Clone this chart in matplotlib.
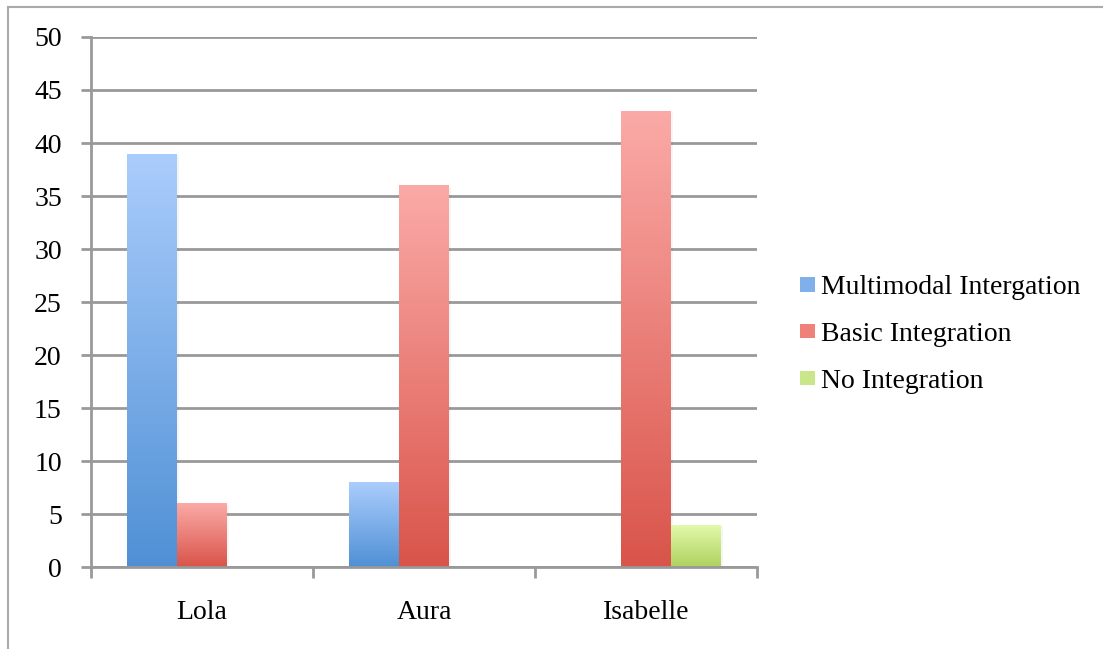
import matplotlib
matplotlib.use('Agg')
import matplotlib.pyplot as plt
import numpy as np
from matplotlib.colors import LinearSegmentedColormap
from matplotlib.lines import Line2D
from matplotlib.patches import Patch

# Chart data
people = ['Lola', 'Aura', 'Isabelle']
series_names = ['Multimodal Intergation', 'Basic Integration', 'No Integration']
multimodal = [39, 8, 0]
basic = [6, 36, 43]
no_integration = [0, 0, 4]

# Gradient colours for each series (top colour, bottom colour)
top_colours = ['#abcdfc', '#fbaaa7', '#e3fbab']
bottom_colours = ['#4f90d5', '#d9544a', '#aed160']
mid_colours = ['#7fb0ea', '#ee827b', '#c9e68a']

plt.rcParams['font.family'] = ['Liberation Serif', 'DejaVu Serif']

fig = plt.figure(figsize=(11.03, 6.49), dpi=100)
ax = fig.add_axes([0.0825, 0.1263, 0.6038, 0.8167])

values = [multimodal, basic, no_integration]
x = np.arange(len(people))
width = 50 / 222
grad = np.linspace(1, 0, 256).reshape(-1, 1)

for s, vals in enumerate(values):
    cmap = LinearSegmentedColormap.from_list('g%d' % s, [bottom_colours[s], top_colours[s]])
    offs = x + (s - 1) * width
    bars = ax.bar(offs, vals, width, color=mid_colours[s], zorder=3, linewidth=0)
    for b, v in zip(bars, vals):
        if v <= 0:
            continue
        bx = b.get_x()
        # faint shadow to the right of each bar
        ax.bar(bx + width / 2 + 0.01, v - 0.15, width, color='#000000', alpha=0.04,
               zorder=2.5, linewidth=0)
        im = ax.imshow(grad, cmap=cmap, extent=[bx, bx + width, 0, v], aspect='auto',
                       zorder=3.1, interpolation='bicubic')
        im.set_clip_path(b)

ax.set_xlim(-0.5, 2.5)
ax.set_ylim(0, 50)
ax.set_yticks(np.arange(0, 51, 5))
ax.yaxis.grid(True, color='#999999', linewidth=2, zorder=1)
ax.set_axisbelow(True)

ax.set_xticks(x)
ax.set_xticklabels(people)
ax.set_xticks([-0.5, 0.5, 1.5, 2.5], minor=True)
ax.tick_params(axis='x', which='major', length=0, pad=24, labelsize=20)
ax.tick_params(axis='x', which='minor', length=8, width=2, color='#999999')
ax.tick_params(axis='y', length=7, width=2, color='#999999', pad=14, labelsize=20)

for side in ['top', 'right']:
    ax.spines[side].set_visible(False)
for side in ['left', 'bottom']:
    ax.spines[side].set_color('#999999')
    ax.spines[side].set_linewidth(2)
ax.spines['bottom'].set_zorder(4)

handles = [Patch(facecolor=c, edgecolor='none') for c in mid_colours]
fig.legend(handles, series_names, loc='center left', bbox_to_anchor=(0.725, 0.4844),
           frameon=False, fontsize=20, handlelength=0.54, handleheight=0.43,
           handletextpad=0.22, labelspacing=0.79, borderaxespad=0, borderpad=0)

# outer frame: top and left edges only
fig.add_artist(Line2D([0.0072, 1.0], [0.9885, 0.9885], color='#aaaaaa', linewidth=1.5,
                      transform=fig.transFigure))
fig.add_artist(Line2D([0.0072, 0.0072], [0.0, 0.9885], color='#aaaaaa', linewidth=1.5,
                      transform=fig.transFigure))

fig.savefig('out.png', dpi=100)
